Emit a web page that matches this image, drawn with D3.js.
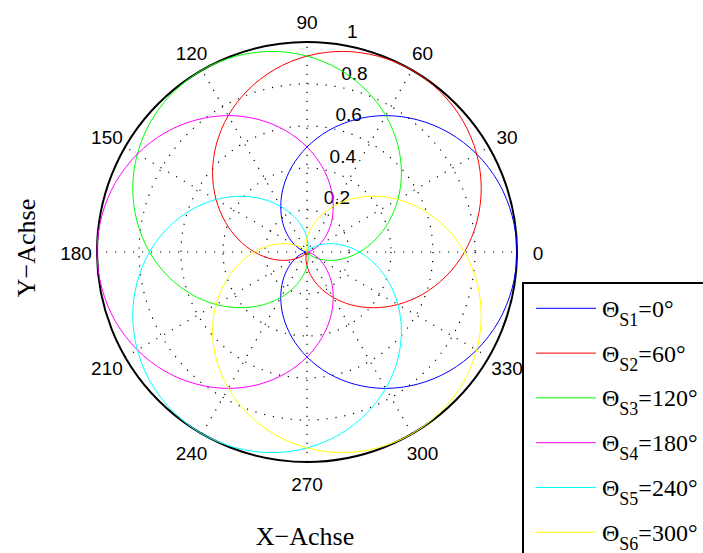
<!DOCTYPE html>
<html>
<head>
<meta charset="utf-8">
<script src="https://cdn.jsdelivr.net/npm/d3@7"></script>
<style>
  html, body { margin: 0; padding: 0; background: #fff; }
  svg { display: block; }
  .serif, .serif tspan { font-family: "Liberation Serif", "Times New Roman", Times, serif; }
  .sans { font-family: "Liberation Sans", Arial, sans-serif; }
</style>
</head>
<body>
<svg id="chart" width="703" height="553"></svg>
<script>
// ---- data ----
const thetaS = [0, 60, 120, 180, 240, 300];               // series orientations (deg)
const phi = [0,10,20,30,40,50,60,70,80,90,100,110,120,130,140,150,160,170,
             180,190,200,210,220,230,240,250,260,270,280,290,300,310,320,330,340,350]; // relative angle (deg)
const rPattern = [1.000,0.992,0.970,0.933,0.883,0.821,0.750,0.671,0.587,0.500,0.413,0.329,
                  0.250,0.179,0.117,0.067,0.030,0.008,0.000,0.008,0.030,0.067,0.117,0.179,
                  0.250,0.329,0.413,0.500,0.587,0.671,0.750,0.821,0.883,0.933,0.970,0.992];
const angleTicks = [0, 30, 60, 90, 120, 150, 180, 210, 240, 270, 300, 330];
const radialTicks = [0.2, 0.4, 0.6, 0.8, 1];
const seriesNames = ["S1", "S2", "S3", "S4", "S5", "S6"];
const colors = ["#0000ff", "#ff0000", "#00ff00", "#ff00ff", "#00ffff", "#ffff00"];
const xLabel = "X\u2212Achse";
const yLabel = "Y\u2212Achse";

// ---- layout ----
const cx = 307, cy = 252, R = 210;
const svg = d3.select("#chart");
const r = d3.scaleLinear().domain([0, 1]).range([0, R]);
const rad = d => d * Math.PI / 180;

const g = svg.append("g").attr("transform", `translate(${cx},${cy})`);

// grid rings (dotted) and outer circle
radialTicks.filter(t => t < 1).forEach(t => {
  g.append("circle").attr("r", r(t)).attr("fill", "none")
    .attr("stroke", "#000").attr("stroke-width", 1.2)
    .attr("stroke-dasharray", "1.2 7.8");
});
// spokes
[0, 30, 60, 90, 120, 150].forEach(a => {
  const x = r(1) * Math.cos(rad(a)), y = -r(1) * Math.sin(rad(a));
  g.append("line").attr("x1", -x).attr("y1", -y).attr("x2", x).attr("y2", y)
    .attr("stroke", "#000").attr("stroke-width", 1.2)
    .attr("stroke-dasharray", "1.2 7.8");
});
g.append("circle").attr("r", r(1)).attr("fill", "none")
  .attr("stroke", "#000").attr("stroke-width", 2);

// angle labels
g.selectAll("text.ang").data(angleTicks).enter().append("text")
  .attr("class", "ang sans")
  .attr("x", d => 1.1 * r(1) * Math.cos(rad(d)))
  .attr("y", d => -1.1 * r(1) * Math.sin(rad(d)))
  .attr("dy", "0.4em")
  .attr("text-anchor", "middle")
  .attr("font-size", 19)
  .text(d => d);

// radial labels (at 82 deg)
const a82 = rad(82);
g.selectAll("text.rad").data(radialTicks).enter().append("text")
  .attr("class", "rad sans")
  .attr("x", d => r(d + 0.01) * Math.cos(a82) + 10.6)
  .attr("y", d => -r(d + 0.01) * Math.sin(a82) - 4)
  .attr("font-size", 19)
  .text(d => d);

// curves
const line = d3.lineRadial()
  .angle(d => rad(90 - d.theta))
  .radius(d => r(d.r))
  .curve(d3.curveCatmullRomClosed);

thetaS.forEach((ts, k) => {
  const pts = phi.map((p, i) => ({ theta: ts + p, r: rPattern[i] }));
  g.append("path").attr("d", line(pts)).attr("fill", "none")
    .attr("stroke", colors[k]).attr("stroke-width", 1);
});

// axis labels
svg.append("text").attr("class", "serif").attr("x", 305).attr("y", 545)
  .attr("text-anchor", "middle")
  .attr("font-size", 26).text(xLabel);
svg.append("text").attr("class", "serif").attr("transform", "translate(35,248) rotate(-90)")
  .attr("text-anchor", "middle")
  .attr("font-size", 26).text(yLabel);

// legend
const lg = svg.append("g");
lg.append("rect").attr("x", 523).attr("y", 283).attr("width", 300).attr("height", 400)
  .attr("fill", "#fff").attr("stroke", "#000").attr("stroke-width", 2);
thetaS.forEach((ts, k) => {
  const y = 308.3 + k * 44.8;
  lg.append("line").attr("x1", 536).attr("x2", 596).attr("y1", y).attr("y2", y)
    .attr("stroke", colors[k]).attr("stroke-width", 1);
  const t = lg.append("text").attr("class", "serif").attr("x", 602).attr("y", y + 8.5)
    .style("font-size", "24px");
  t.append("tspan").text("\u0398");
  t.append("tspan").style("font-size", "18px").attr("dy", 9).text(seriesNames[k]);
  t.append("tspan").attr("dy", -9).text("=" + ts + "\u00B0");
});
</script>
</body>
</html>
